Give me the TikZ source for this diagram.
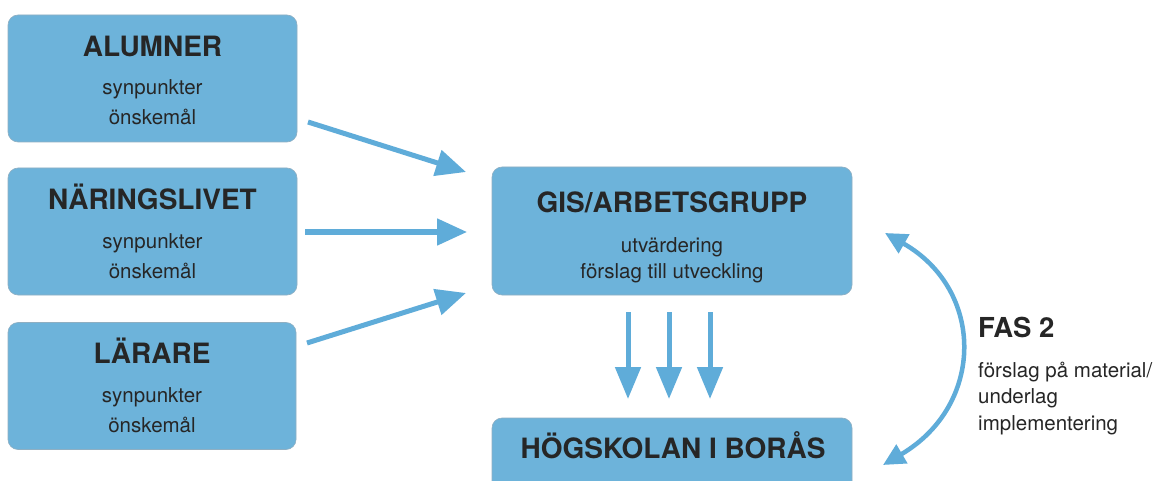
\documentclass[tikz,border=0pt]{standalone}
\usepackage{fontspec}
\setmainfont{TeX Gyre Heros}
\usetikzlibrary{arrows.meta}
\definecolor{boxblue}{HTML}{6DB3DA}
\definecolor{arrowblue}{HTML}{5FACD9}
\definecolor{edgegray}{HTML}{8FAFC2}
\definecolor{txt}{HTML}{262626}
\begin{document}
\begin{tikzpicture}[x=1pt,y=-1pt,
  bluebox/.style={draw=edgegray,line width=0.6pt,fill=boxblue,rounded corners=10pt,inner sep=0pt},
  titletext/.style={anchor=base,inner sep=0pt,text=txt,font=\fontsize{28}{30}\selectfont\bfseries},
  subtext/.style={anchor=base,inner sep=0pt,text=txt,font=\fontsize{20.5}{24}\selectfont},
  sidetext/.style={anchor=base west,inner sep=0pt,text=txt,font=\fontsize{20.5}{24}\selectfont},
  bigarrow/.style={draw=arrowblue,line width=5pt,-{Triangle[width=26pt,length=30pt]}},
  curvearrow/.style={draw=arrowblue,line width=4.5pt,{Triangle[width=21pt,length=22pt]}-{Triangle[width=21pt,length=22pt]}}
]
\useasboundingbox (0,0) rectangle (1159,481);
\fill[white] (0,0) rectangle (1159,481);

% boxes
\node[bluebox,minimum width=289pt,minimum height=127pt] (alumner) at (152.5,78.5) {};
\node[bluebox,minimum width=289pt,minimum height=127pt] (naring) at (152.5,231.5) {};
\node[bluebox,minimum width=288pt,minimum height=127pt] (larare) at (152,386) {};
\node[bluebox,minimum width=360pt,minimum height=128pt] (gis) at (672,231) {};
\node[bluebox,minimum width=360pt,minimum height=90pt] (hogskolan) at (672,463) {};

% texts
\node[titletext] (t1) at (152.5,57) {ALUMNER};
\node[subtext] (t1a) at (152.5,95) {synpunkter};
\node[subtext] (t1b) at (152.5,125) {önskemål};

\node[titletext] (t2) at (152.5,210) {NÄRINGSLIVET};
\node[subtext] (t2a) at (152.5,248) {synpunkter};
\node[subtext] (t2b) at (152.5,278) {önskemål};

\node[titletext] (t3) at (152,363) {LÄRARE};
\node[subtext] (t3a) at (152,402) {synpunkter};
\node[subtext] (t3b) at (152,432) {önskemål};

\node[titletext] (t4) at (672,213) {GIS/ARBETSGRUPP};
\node[subtext] (t4a) at (672,252) {utvärdering};
\node[subtext] (t4b) at (672,278) {förslag till utveckling};

\node[titletext] (t5) at (673,458) {HÖGSKOLAN I BORÅS};

\node[sidetext,font=\fontsize{27.5}{30}\selectfont\bfseries] (fas) at (978,337) {FAS 2};
\node[sidetext] (fasa) at (978,377) {förslag på material/};
\node[sidetext] (fasb) at (978,403) {underlag};
\node[sidetext] (fasc) at (978,430) {implementering};

% arrow end points
\coordinate (a1s) at (308,122);
\coordinate (a1e) at (466,172);
\coordinate (a2s) at (305,232);
\coordinate (a2e) at (467,232);
\coordinate (a3s) at (307,343);
\coordinate (a3e) at (466,293);
\coordinate (d1s) at (628,312);
\coordinate (d1e) at (628,399);
\coordinate (d2s) at (669,312);
\coordinate (d2e) at (669,399);
\coordinate (d3s) at (710,312);
\coordinate (d3e) at (710,399);
\coordinate (cs) at (885,233);
\coordinate (ce) at (883,465);

\draw[bigarrow] (a1s) -- (a1e);
\draw[bigarrow] (a2s) -- (a2e);
\draw[bigarrow] (a3s) -- (a3e);
\draw[bigarrow,-{Triangle[width=25pt,length=32pt]}] (d1s) -- (d1e);
\draw[bigarrow,-{Triangle[width=25pt,length=32pt]}] (d2s) -- (d2e);
\draw[bigarrow,-{Triangle[width=25pt,length=32pt]}] (d3s) -- (d3e);
\draw[curvearrow] (cs) .. controls (985,290) and (985,405) .. (ce);
\end{tikzpicture}
\end{document}
